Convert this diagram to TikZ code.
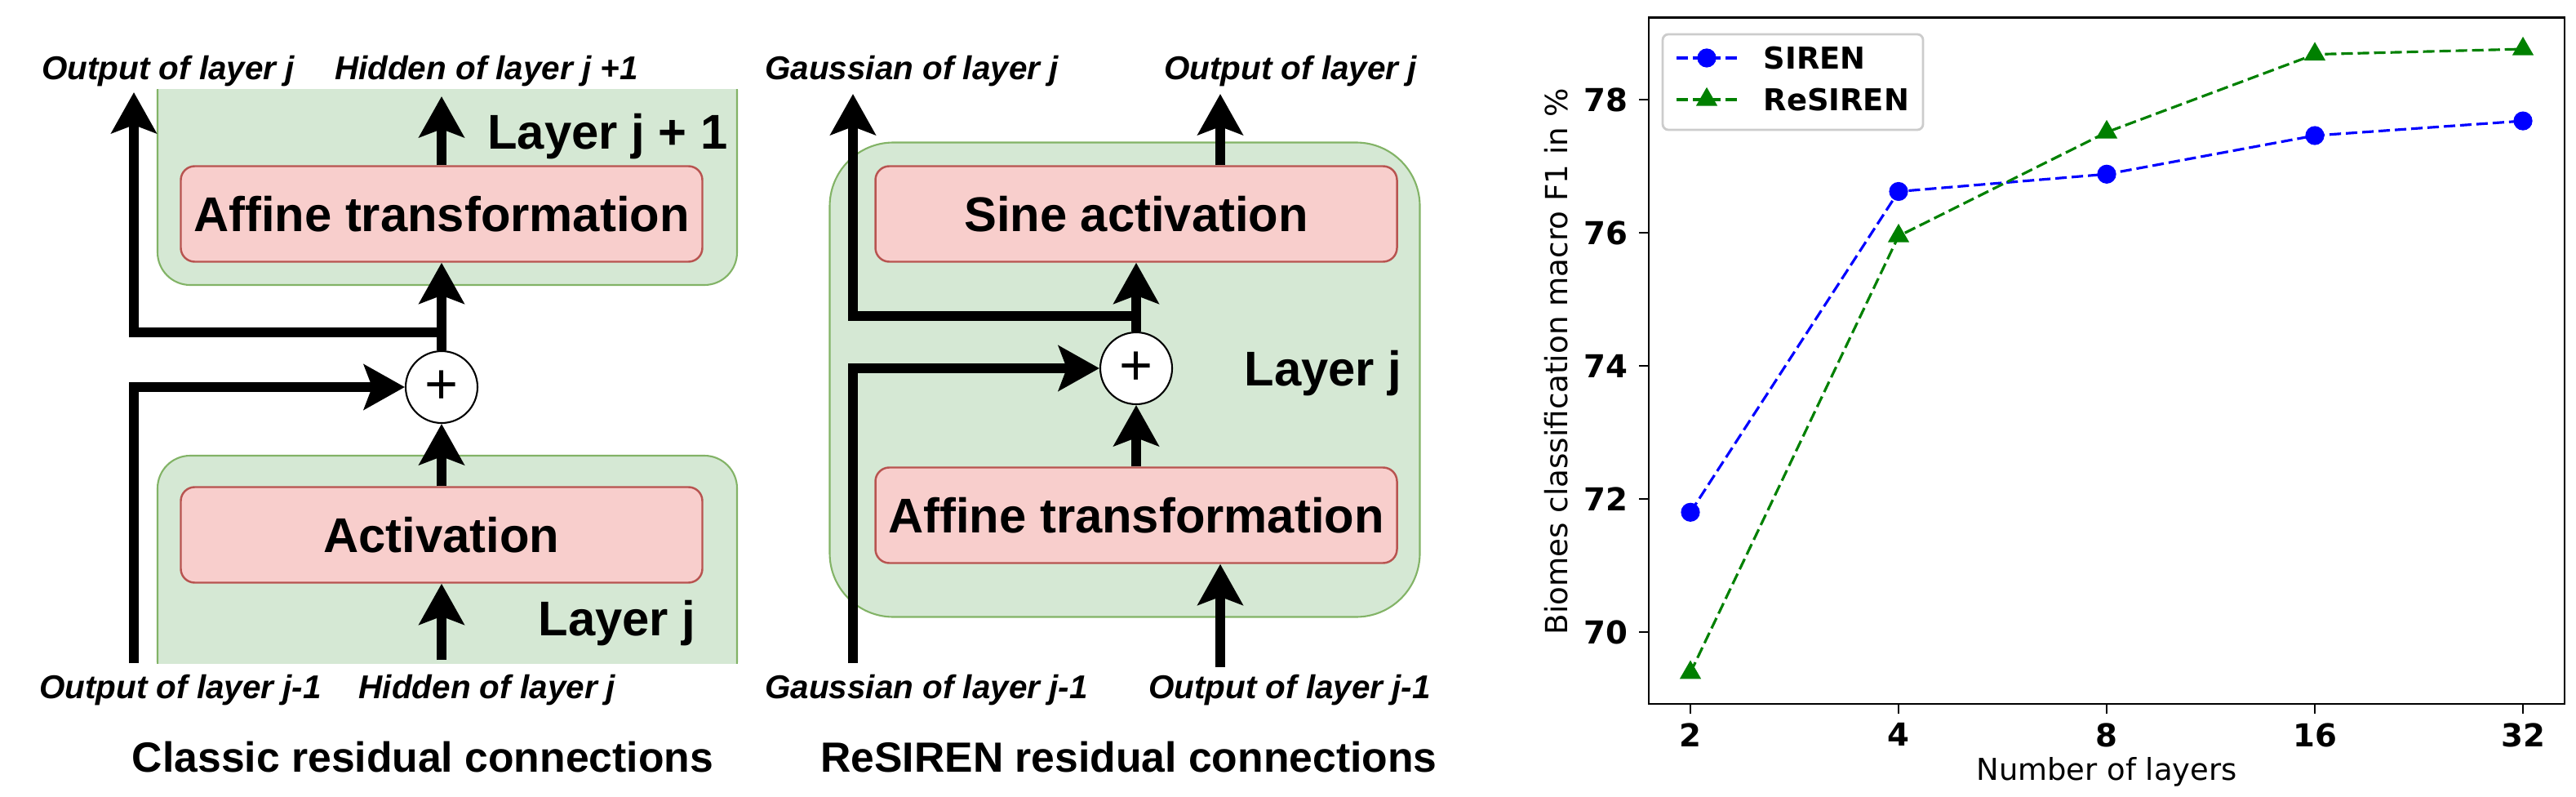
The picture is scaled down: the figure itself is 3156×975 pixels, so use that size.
\documentclass[tikz,border=0pt]{standalone}
\usepackage{fontspec}
\setmainfont{Liberation Sans}
\newfontfamily\plotfont{DejaVu Sans}
\usetikzlibrary{positioning,arrows.meta,plotmarks}
\definecolor{layerfill}{HTML}{D5E8D4}
\definecolor{layerline}{HTML}{82B366}
\definecolor{opfill}{HTML}{F8CECC}
\definecolor{opline}{HTML}{B85450}
\definecolor{mplgreen}{RGB}{0,128,0}
\tikzstyle{layerbox}=[draw=layerline,fill=layerfill,line width=0.6pt,inner sep=0pt]
\tikzstyle{opbox}=[draw=opline,fill=opfill,line width=0.7pt,rounded corners=1.7mm,minimum width=63.9mm,minimum height=11.7mm,inner sep=0pt,font=\fontsize{17}{20}\selectfont\bfseries]
\tikzstyle{addnode}=[circle,draw,fill=white,line width=0.6pt,minimum size=8.8mm,inner sep=0pt,font=\fontsize{20}{20}\selectfont]
\tikzstyle{iolabel}=[anchor=base,inner sep=0pt,font=\fontsize{11.5}{13}\selectfont\bfseries\itshape]
\tikzstyle{layerlabel}=[anchor=base east,inner sep=0pt,font=\fontsize{17}{20}\selectfont\bfseries]
\tikzstyle{figtitle}=[anchor=base,inner sep=0pt,font=\fontsize{14.7}{17}\selectfont\bfseries]
\tikzstyle{flow}=[line width=3.4pt,-{Stealth[length=5mm,width=5.5mm,inset=1mm]}]
\tikzstyle{tick}=[inner sep=0pt,font=\plotfont\bfseries\fontsize{11}{13}\selectfont]
\tikzstyle{sirenline}=[blue,line width=0.9pt,dash pattern=on 4pt off 1.7pt,mark=*,mark size=1mm,mark options={solid}]
\tikzstyle{resirenline}=[mplgreen,line width=0.9pt,dash pattern=on 4pt off 1.7pt,mark=triangle*,mark size=1.2mm,mark options={solid}]

\begin{document}
\begin{tikzpicture}[x=0.1mm,y=-0.1mm]
  \useasboundingbox (0,0) rectangle (3156,975);

  % classic residual connections
  \begin{scope}
    \clip (150,110) rectangle (950,812);
    \node [layerbox,rounded corners=4mm,minimum width=71mm,minimum height=27.8mm] at (548,210) (lay2) {};
    \node [layerbox,rounded corners=4mm,minimum width=71mm,minimum height=29.2mm] at (548,704) (lay1) {};
  \end{scope}
  \node [opbox] at (541,262) (aff1) {Affine transformation};
  \node [opbox] at (541,655) (act1) {Activation};
  \node [addnode] at (541,474) (add1) {+};
  \node [layerlabel] at (892,183) (nm2) {Layer j + 1};
  \node [layerlabel] at (853,778) (nm1) {Layer j};

  \coordinate (outL) at (164,113);
  \coordinate (forkL) at (541,407);
  \coordinate (resL) at (164,812);
  \coordinate (hidTop) at (541,118);
  \coordinate (hidBot) at (541,808);

  \draw [flow] (add1) -- (aff1);
  \draw [flow] (forkL) -| (outL);
  \draw [flow] (resL) |- (add1);
  \draw [flow] (aff1) -- (hidTop);
  \draw [flow] (act1) -- (add1);
  \draw [flow] (hidBot) -- (act1);

  \node [iolabel] at (206,98) (tOutL) {Output of layer j};
  \node [iolabel] at (596,98) (tHidL) {Hidden of layer j +1};
  \node [iolabel] at (221,855) (bOutL) {Output of layer j-1};
  \node [iolabel] at (597,855) (bHidL) {Hidden of layer j};
  \node [figtitle] at (518,945) (capL) {Classic residual connections};

  % ReSIREN residual connections
  \node [layerbox,rounded corners=7.8mm,minimum width=72.3mm,minimum height=58.1mm] at (1378,465) (layJ) {};
  \node [opbox] at (1392,262) (sine2) {Sine activation};
  \node [opbox] at (1392,631) (aff2) {Affine transformation};
  \node [addnode] at (1392,451) (add2) {+};
  \node [layerlabel] at (1718,472) (nmJ) {Layer j};

  \coordinate (gaussTop) at (1045,115);
  \coordinate (forkR) at (1392,387);
  \coordinate (gaussBot) at (1045,812);
  \coordinate (outTop) at (1495,115);
  \coordinate (outBot) at (1495,817);

  \draw [flow] (add2) -- (sine2);
  \draw [flow] (forkR) -| (gaussTop);
  \draw [flow] (gaussBot) |- (add2);
  \draw [flow] (outTop |- sine2.north) -- (outTop);
  \draw [flow] (aff2) -- (add2);
  \draw [flow] (outBot) -- (outBot |- aff2.south);

  \node [iolabel] at (1117,98) (tGauss) {Gaussian of layer j};
  \node [iolabel] at (1581,98) (tOutR) {Output of layer j};
  \node [iolabel] at (1135,855) (bGauss) {Gaussian of layer j-1};
  \node [iolabel] at (1580,855) (bOutR) {Output of layer j-1};
  \node [figtitle] at (1383,945) (capR) {ReSIREN residual connections};

  % macro F1 against depth
  \begin{scope}[shift={(2071,774)},x=25.5mm,y=8.15mm]
    \draw [line width=0.8pt] (-0.2,-1.08) rectangle (4.2,9.23);
    \draw [line width=0.8pt] (0,-1.08) -- ++(0,-3.5pt) (1,-1.08) -- ++(0,-3.5pt)
      (2,-1.08) -- ++(0,-3.5pt) (3,-1.08) -- ++(0,-3.5pt) (4,-1.08) -- ++(0,-3.5pt);
    \draw [line width=0.8pt] (-0.2,0) -- ++(-3.5pt,0) (-0.2,2) -- ++(-3.5pt,0)
      (-0.2,4) -- ++(-3.5pt,0) (-0.2,6) -- ++(-3.5pt,0) (-0.2,8) -- ++(-3.5pt,0);
    \node [tick,anchor=north,yshift=-6.5pt] at (0,-1.08) (x2) {2};
    \node [tick,anchor=north,yshift=-6.5pt] at (1,-1.08) (x4) {4};
    \node [tick,anchor=north,yshift=-6.5pt] at (2,-1.08) (x8) {8};
    \node [tick,anchor=north,yshift=-6.5pt] at (3,-1.08) (x16) {16};
    \node [tick,anchor=north,yshift=-6.5pt] at (4,-1.08) (x32) {32};
    \node [tick,anchor=east,xshift=-7pt] at (-0.2,0) (y70) {70};
    \node [tick,anchor=east,xshift=-7pt] at (-0.2,2) (y72) {72};
    \node [tick,anchor=east,xshift=-7pt] at (-0.2,4) (y74) {74};
    \node [tick,anchor=east,xshift=-7pt] at (-0.2,6) (y76) {76};
    \node [tick,anchor=east,xshift=-7pt] at (-0.2,8) (y78) {78};
    \draw [sirenline] plot coordinates {(0,1.8) (1,6.62) (2,6.88) (3,7.46) (4,7.68)};
    \draw [resirenline] plot coordinates {(0,-0.61) (1,5.95) (2,7.51) (3,8.68) (4,8.76)};
  \end{scope}
  \node [rotate=90,font=\plotfont\fontsize{10.6}{12}\selectfont] at (1907,443) (ylab) {Biomes classification macro F1 in \%};
  \node [anchor=base,inner sep=0pt,font=\plotfont\fontsize{10.5}{12}\selectfont] at (2581,955) (xlab) {Number of layers};

  \draw [rounded corners=0.7mm,draw=black!20,fill=white,line width=0.8pt] (2037,42) rectangle (2356,159);
  \draw [sirenline,mark indices={2}] plot coordinates {(2054,71) (2091,71) (2129,71)};
  \draw [resirenline,mark indices={2}] plot coordinates {(2054,122) (2091,122) (2129,122)};
  \node [tick,anchor=west,font=\plotfont\bfseries\fontsize{10.5}{12}\selectfont] at (2160,71) (legS) {SIREN};
  \node [tick,anchor=west,font=\plotfont\bfseries\fontsize{10.5}{12}\selectfont] at (2160,122) (legR) {ReSIREN};
\end{tikzpicture}
\end{document}
